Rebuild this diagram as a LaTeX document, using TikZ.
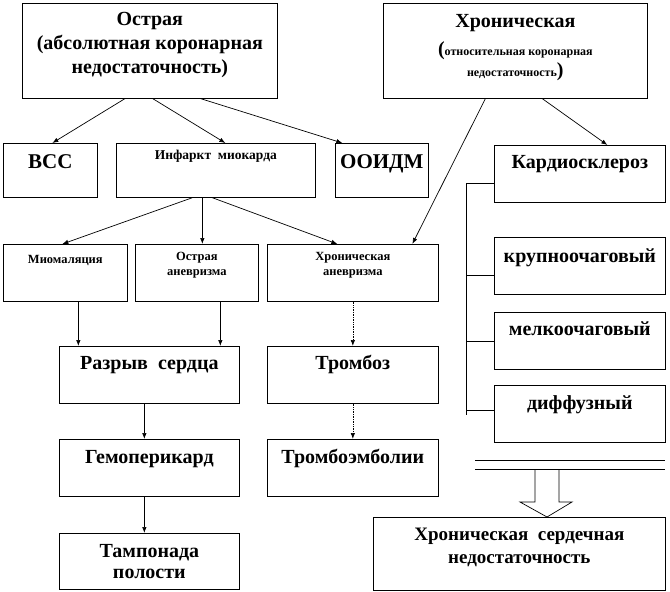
\documentclass[tikz,border=0pt]{standalone}
\usepackage{fontspec}
\setmainfont{Liberation Serif}
\usepackage{tikz}
\usetikzlibrary{arrows.meta}

\newcommand{\rows}[1]{\begin{tabular}[t]{@{}c@{}}#1\end{tabular}}
\newcommand{\bigtxt}{\fontsize{20}{24}\selectfont}
\newcommand{\captxt}{\fontsize{21}{24}\selectfont}
\newcommand{\smalltxt}{\fontsize{12.5}{15}\selectfont}

\begin{document}
\begin{tikzpicture}[x=1pt, y=-1pt, line width=0.7pt, >={Latex[length=6pt,width=4.5pt]},
  box/.style = {draw, anchor=north west, inner xsep=2pt, inner ysep=0pt, font=\bfseries\bigtxt}]
\useasboundingbox (0,0) rectangle (670,592);
\node[box, minimum width=255pt, text height=22pt, text depth=73pt] (acute) at (22,3) {\rows{Острая\\(абсолютная\ коронарная\\недостаточность)}};
\node[box, minimum width=264pt, text height=24pt, text depth=71pt] (chronic) at (383,3) {\rows{Хроническая\\[4pt]({\fontsize{12}{14}\selectfont относительная коронарная}\\[-3pt]{\fontsize{12}{14}\selectfont недостаточность})}};
\node[box, minimum width=94pt, text height=25pt, text depth=29pt, font=\bfseries\captxt] (vss) at (3,143) {ВСС};
\node[box, minimum width=199pt, text height=16pt, text depth=38pt, font=\bfseries\fontsize{13.5}{15}\selectfont] (inf) at (116,143) {Инфаркт\ \ миокарда};
\node[box, minimum width=93pt, text height=25pt, text depth=29pt, font=\bfseries\captxt] (ooidm) at (335,143) {ООИДМ};
\node[box, minimum width=124pt, text height=19pt, text depth=38pt, font=\bfseries\smalltxt] (myo) at (3,244) {Миомаляция};
\node[box, minimum width=123pt, text height=16pt, text depth=41pt, font=\bfseries\smalltxt] (acan) at (135,244) {\rows{Острая\\аневризма}};
\node[box, minimum width=171pt, text height=16pt, text depth=41pt, font=\bfseries\smalltxt] (chan) at (267,244) {\rows{Хроническая\\аневризма}};
\node[box, minimum width=171pt, text height=23pt, text depth=34pt] (kard) at (494,145) {Кардиосклероз};
\node[box, minimum width=171pt, text height=25pt, text depth=32pt] (big) at (494,237) {крупноочаговый};
\node[box, minimum width=171pt, text height=23pt, text depth=34pt] (small) at (494,312) {мелкоочаговый};
\node[box, minimum width=171pt, text height=24pt, text depth=33pt] (diff) at (494,385) {диффузный};
\node[box, minimum width=180pt, text height=23pt, text depth=34pt] (rupt) at (59,346) {Разрыв\ \ сердца};
\node[box, minimum width=171pt, text height=23pt, text depth=34pt] (thromb) at (267,346) {Тромбоз};
\node[box, minimum width=180pt, text height=24pt, text depth=33pt] (hemo) at (59,439) {Гемоперикард};
\node[box, minimum width=171pt, text height=24pt, text depth=33pt] (temb) at (267,439) {Тромбоэмболии};
\node[box, minimum width=180pt, text height=24pt, text depth=32pt] (tamp) at (59,533) {\rows{Тампонада\\[-3pt]полости}};
\node[box, minimum width=292pt, text height=23pt, text depth=50pt, font=\bfseries\fontsize{19}{24}\selectfont] (hsn) at (373,517) {\rows{Хроническая\ \ сердечная\\[-1pt]недостаточность}};
\coordinate (trunk) at (466,415);

\draw[->] ([xshift=-25pt]acute.south) -- ([xshift=2pt]vss.north);
\draw[->] ([xshift=3pt]acute.south) -- ([xshift=9.5pt]inf.north);
\draw[->] ([xshift=51pt]acute.south) -- ([xshift=-39.5pt]ooidm.north);
\draw[->] ([xshift=-23.5pt]inf.south) -- ([xshift=-3pt]myo.north);
\draw[->] ([xshift=-13.5pt]inf.south) -- ([xshift=5.5pt]acan.north);
\draw[->] ([xshift=-3.5pt]inf.south) -- ([xshift=-15.5pt]chan.north);
\draw[->] ([xshift=-30pt]chronic.south) -- ([xshift=59.5pt]chan.north);
\draw[->] ([xshift=27pt]chronic.south) -- ([xshift=27.5pt]kard.north);
\draw[->] ([xshift=13pt]myo.south) -- ([xshift=-71pt]rupt.north);
\draw[->] ([xshift=23.5pt]acan.south) -- ([xshift=71pt]rupt.north);
\draw[->, densely dotted] (chan) -- (thromb);
\draw[->, densely dotted] (thromb) -- (temb);
\draw[->] ([xshift=-5pt]rupt.south) -- ([xshift=-5pt]hemo.north);
\draw[->] ([xshift=-5pt]hemo.south) -- ([xshift=-5pt]tamp.north);

\draw ([yshift=-9.5pt]kard.west) -| (trunk);
\foreach \n/\s in {big/-9.5pt, small/-0.5pt, diff/3.5pt}
  \draw ([yshift=\s]\n.west) -- ([yshift=\s]\n.west -| trunk);

\draw (475,460) -- (665,460);
\draw (475,469) -- (665,469);
\draw (535,470) -- (535,502) -- (520,502) -- (547,517) -- (572,502) -- (559,502) -- (559,470);
\end{tikzpicture}
\end{document}
